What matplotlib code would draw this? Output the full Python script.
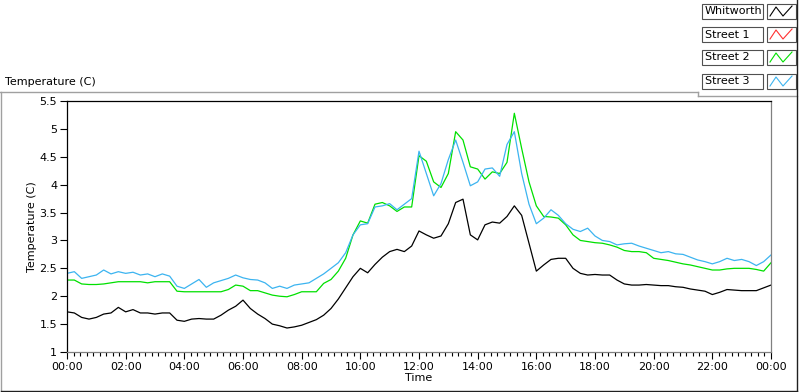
import numpy as np
import matplotlib
matplotlib.use('Agg')
from matplotlib import pyplot as plt
from matplotlib.lines import Line2D
from matplotlib.patches import Rectangle
from matplotlib.ticker import MultipleLocator, FuncFormatter

# =============================================================================
# Data (15 minute steps, 00:00 -> 24:00)
# =============================================================================
hours = np.arange(0, 24.01, 0.25)

whitworth = [1.72, 1.70, 1.62, 1.59, 1.62, 1.68, 1.70, 1.80, 1.72, 1.76, 1.70, 1.70,
             1.68, 1.70, 1.70, 1.57, 1.55, 1.59, 1.60, 1.59, 1.59, 1.66, 1.75, 1.82,
             1.93, 1.78, 1.68, 1.60, 1.50, 1.47, 1.43, 1.45, 1.48, 1.53, 1.58, 1.66,
             1.78, 1.95, 2.15, 2.35, 2.50, 2.42, 2.57, 2.70, 2.80, 2.84, 2.80, 2.90,
             3.17, 3.10, 3.04, 3.08, 3.30, 3.68, 3.74, 3.10, 3.01, 3.28, 3.33, 3.31,
             3.43, 3.62, 3.45, 2.95, 2.45, 2.56, 2.66, 2.68, 2.68, 2.50, 2.41, 2.38,
             2.39, 2.38, 2.38, 2.29, 2.22, 2.20, 2.20, 2.21, 2.20, 2.19, 2.19, 2.17,
             2.16, 2.13, 2.11, 2.09, 2.03, 2.07, 2.12, 2.11, 2.10, 2.10, 2.10, 2.15,
             2.20]

street1 = []  # no visible data

street2 = [2.29, 2.29, 2.22, 2.21, 2.21, 2.22, 2.24, 2.26, 2.26, 2.26, 2.26, 2.24,
           2.26, 2.26, 2.26, 2.09, 2.08, 2.08, 2.08, 2.08, 2.08, 2.08, 2.12, 2.20,
           2.18, 2.10, 2.10, 2.06, 2.02, 2.00, 1.99, 2.03, 2.08, 2.08, 2.08, 2.23,
           2.30, 2.45, 2.68, 3.10, 3.35, 3.31, 3.65, 3.68, 3.62, 3.52, 3.60, 3.60,
           4.52, 4.42, 4.05, 3.95, 4.20, 4.95, 4.80, 4.32, 4.28, 4.10, 4.23, 4.20,
           4.40, 5.28, 4.65, 4.05, 3.62, 3.43, 3.42, 3.40, 3.28, 3.10, 3.00, 2.98,
           2.96, 2.95, 2.92, 2.88, 2.82, 2.80, 2.80, 2.78, 2.68, 2.66, 2.64, 2.61,
           2.58, 2.56, 2.53, 2.50, 2.47, 2.47, 2.49, 2.50, 2.50, 2.50, 2.48, 2.45,
           2.60]

street3 = [2.41, 2.44, 2.32, 2.35, 2.38, 2.47, 2.40, 2.44, 2.41, 2.43, 2.38, 2.40,
           2.35, 2.40, 2.36, 2.18, 2.14, 2.22, 2.30, 2.16, 2.24, 2.28, 2.32, 2.38,
           2.33, 2.30, 2.29, 2.24, 2.14, 2.18, 2.14, 2.20, 2.22, 2.24, 2.32, 2.40,
           2.50, 2.60, 2.78, 3.10, 3.28, 3.30, 3.60, 3.62, 3.66, 3.55, 3.65, 3.75,
           4.60, 4.20, 3.80, 4.02, 4.45, 4.80, 4.40, 3.98, 4.05, 4.28, 4.30, 4.15,
           4.72, 4.95, 4.20, 3.65, 3.30, 3.40, 3.55, 3.45, 3.30, 3.20, 3.16, 3.22,
           3.08, 3.00, 2.98, 2.92, 2.94, 2.95, 2.90, 2.86, 2.82, 2.78, 2.80, 2.76,
           2.75, 2.70, 2.65, 2.62, 2.58, 2.62, 2.68, 2.64, 2.66, 2.62, 2.55, 2.62,
           2.74]

names = ['Whitworth', 'Street 1', 'Street 2', 'Street 3']
colors = ['#000000', '#ff3030', '#00e000', '#3cb4f0']

W, H = 800, 392


# pixel -> figure fraction
def fx(x):
    return x / W


def fy(y):
    return 1 - y / H


# =============================================================================
# Figure
# =============================================================================
plt.rcParams['font.family'] = 'DejaVu Sans'
fig = plt.figure(figsize=(W / 100, H / 100), dpi=100)
fig.patch.set_facecolor('white')

ax = fig.add_axes([fx(67), fy(352), fx(771) - fx(67), fy(101) - fy(352)])

for series, c in zip([whitworth, street1, street2, street3], colors):
    if len(series):
        ax.plot(hours[:len(series)], series, color=c, lw=0.9)

ax.set_xlim(0, 24)
ax.set_ylim(1, 5.5)
ax.xaxis.set_major_locator(MultipleLocator(2))
ax.xaxis.set_minor_locator(MultipleLocator(2 / 9))
ax.yaxis.set_major_locator(MultipleLocator(0.5))
ax.xaxis.set_major_formatter(FuncFormatter(lambda v, p: '%02d:00' % (int(round(v)) % 24)))
ax.yaxis.set_major_formatter(FuncFormatter(lambda v, p: ('%g' % v)))
ax.tick_params(axis='both', which='major', labelsize=8, length=5, width=0.8, pad=2)
ax.tick_params(axis='x', which='minor', length=3, width=0.8)

ax.spines['left'].set_color('black')
ax.spines['top'].set_color('black')
ax.spines['right'].set_color('#808080')
ax.spines['bottom'].set_color('#808080')
for s in ax.spines.values():
    s.set_linewidth(0.9)

ax.set_xlabel('Time', fontsize=8, labelpad=1)
ax.set_ylabel('Temperature (C)', fontsize=8, labelpad=2)

# title above the panel
fig.text(fx(5), fy(82), 'Temperature (C)', fontsize=8, ha='left', va='center')

# panel frame
gray = '#a0a0a0'
fig.add_artist(Line2D([fx(0), fx(698)], [fy(92), fy(92)], color=gray, lw=1))
fig.add_artist(Line2D([fx(698), fx(698)], [fy(92), fy(96)], color=gray, lw=1))
fig.add_artist(Line2D([fx(698), fx(797)], [fy(96), fy(96)], color=gray, lw=1))
fig.add_artist(Line2D([fx(1), fx(1)], [fy(92), fy(392)], color=gray, lw=1))
fig.add_artist(Line2D([fx(797), fx(797)], [fy(0), fy(392)], color='#202020', lw=1))
fig.add_artist(Line2D([fx(1), fx(797)], [fy(391), fy(391)], color='#202020', lw=1))

# legend, drawn like the original plot legend
rows = [4, 27, 50, 74]
for name, c, top in zip(names, colors, rows):
    fig.add_artist(Rectangle((fx(702), fy(top + 15)), fx(61), 15 / H,
                             fill=False, ec='#505050', lw=0.8))
    fig.text(fx(705), fy(top + 7.5), name, fontsize=8, ha='left', va='center')
    fig.add_artist(Rectangle((fx(767), fy(top + 15)), fx(29), 15 / H,
                             fill=False, ec='#505050', lw=0.8))
    zx = [770, 776, 783, 792]
    zy = [top + 12, top + 3, top + 12, top + 2]
    fig.add_artist(Line2D([fx(v) for v in zx], [fy(v) for v in zy], color=c, lw=0.8))

fig.savefig('out.png', dpi=100)
